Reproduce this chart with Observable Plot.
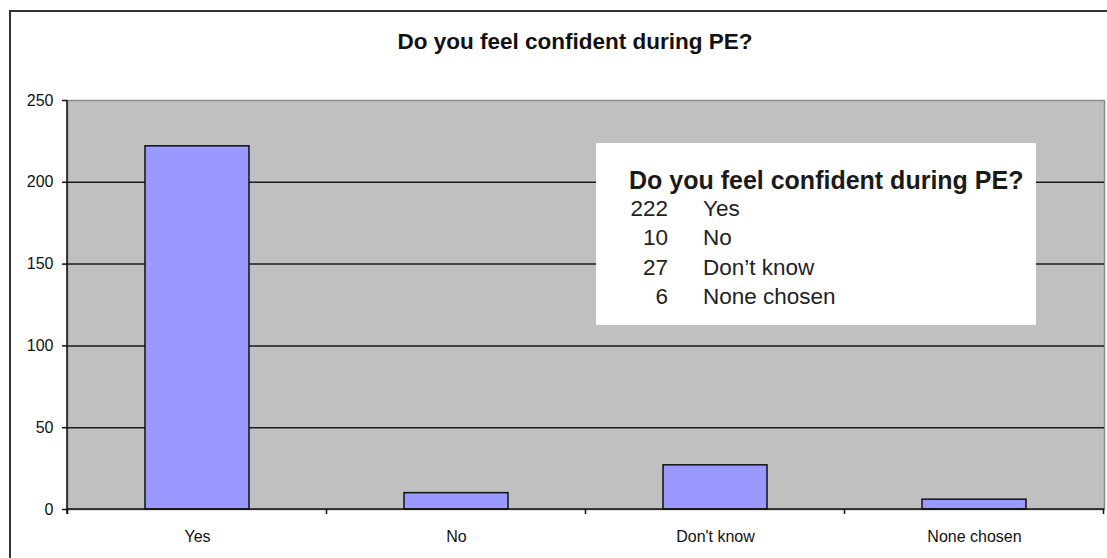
<!DOCTYPE html>
<html>
<head>
<meta charset="utf-8">
<script src="https://cdn.jsdelivr.net/npm/d3@7"></script>
<script src="https://cdn.jsdelivr.net/npm/@observablehq/plot@0.6"></script>
<style>
  html, body { margin: 0; padding: 0; background: #fff; }
  body { font-family: "Liberation Sans", Arial, sans-serif; color: #111; }
  #wrap { position: relative; width: 1107px; height: 558px; overflow: hidden; }
  #outer { position: absolute; left: 9px; top: 10px; width: 1200px; height: 700px; border: 2px solid #333; box-sizing: border-box; }
  #title { position: absolute; left: 0; width: 1150px; top: 31px; text-align: center; font-weight: bold; font-size: 22.5px; line-height: 1; }
  #chart { position: absolute; left: 0; top: 0; }
  #inset { position: absolute; left: 596px; top: 143px; width: 440px; height: 182px; background: #fff; }
  #inset .ttl { position: absolute; left: 33px; top: 25px; font-weight: bold; font-size: 25px; line-height: 1; white-space: nowrap; color: #1a1a1a; }
  #inset .rows { position: absolute; left: 0; top: 51px; font-size: 22.5px; line-height: 29.3px; color: #222; }
  #inset .row { display: flex; white-space: nowrap; }
  #inset .num { width: 72px; text-align: right; }
  #inset .lab { margin-left: 35px; }
</style>
</head>
<body>
<div id="wrap">
  <div id="outer"></div>
  <div id="title"></div>
  <div id="chart"></div>
  <div id="inset"><div class="ttl"></div><div class="rows"></div></div>
</div>
<script>
const chartTitle = "Do you feel confident during PE?";
const categories = ["Yes", "No", "Don't know", "None chosen"];
const insetLabels = ["Yes", "No", "Don\u2019t know", "None chosen"];
const counts = [222, 10, 27, 6];
const yTicks = [0, 50, 100, 150, 200, 250];
const gridValues = [50, 100, 150, 200];

const data = categories.map((c, i) => ({category: c, count: counts[i]}));

document.getElementById("title").textContent = chartTitle;
document.querySelector("#inset .ttl").textContent = chartTitle;
const rows = document.querySelector("#inset .rows");
counts.forEach((v, i) => {
  const r = document.createElement("div");
  r.className = "row";
  const n = document.createElement("span"); n.className = "num"; n.textContent = v;
  const l = document.createElement("span"); l.className = "lab"; l.textContent = insetLabels[i];
  r.appendChild(n); r.appendChild(l);
  rows.appendChild(r);
});

function axisLines(index, scales, values, dims) {
  const ns = "http://www.w3.org/2000/svg";
  const g = document.createElementNS(ns, "g");
  const x = scales.x, y = scales.y;
  const bw = typeof x.bandwidth === "function" ? x.bandwidth() : 0;
  const step = typeof x.step === "function" ? x.step() : (x(categories[1]) - x(categories[0]));
  const y0 = y(0);
  const xs = categories.map(c => x(c) + bw / 2 - step / 2);
  xs.push(x(categories[categories.length - 1]) + bw / 2 + step / 2);
  const line = (x1, y1, x2, y2) => {
    const l = document.createElementNS(ns, "line");
    l.setAttribute("x1", x1); l.setAttribute("y1", y1);
    l.setAttribute("x2", x2); l.setAttribute("y2", y2);
    l.setAttribute("stroke", "#111");
    l.setAttribute("stroke-width", 1.5);
    g.appendChild(l);
  };
  xs.forEach(px => line(px, y0, px, y0 + 5));
  line(dims.marginLeft, dims.marginTop, dims.marginLeft, y0 + 5);
  line(dims.marginLeft, y0, dims.width - dims.marginRight, y0);
  return g;
}

const plot = Plot.plot({
  width: 1107,
  height: 558,
  marginLeft: 67,
  marginRight: 3,
  marginTop: 100,
  marginBottom: 49,
  style: {fontFamily: "'Liberation Sans', Arial, sans-serif", fontSize: "16px", color: "#111", background: "transparent"},
  x: {domain: categories, paddingInner: 0.6, paddingOuter: 0.3, label: null},
  y: {domain: [0, 250], label: null},
  marks: [
    Plot.frame({fill: "#C0C0C0", stroke: "#8a8a8a", strokeWidth: 1.5}),
    Plot.ruleY(gridValues, {stroke: "#1a1a1a", strokeWidth: 1.5}),
    Plot.barY(data, {x: "category", y: "count", fill: "#9999FF", stroke: "#111", strokeWidth: 1.5}),
    axisLines,
    Plot.axisY({ticks: yTicks, tickSize: 5, tickPadding: 9, fontSize: 16, stroke: "#111", strokeWidth: 1.5}),
    Plot.axisX({tickSize: 0, tickPadding: 21, fontSize: 16})
  ]
});
document.getElementById("chart").appendChild(plot);
</script>
</body>
</html>
